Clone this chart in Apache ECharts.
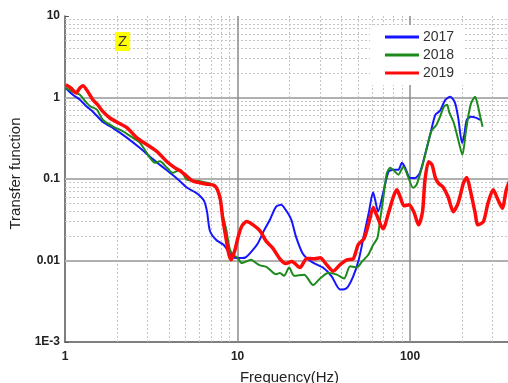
<!DOCTYPE html>
<html>
<head>
<meta charset="utf-8">
<script src="https://cdn.jsdelivr.net/npm/echarts/dist/echarts.min.js"></script>
<style>
  html, body { margin: 0; padding: 0; background: #fff; }
  #chart { width: 508px; height: 383px; }
</style>
</head>
<body>
<div id="chart"></div>
<script>
// Frequency (Hz) and transfer function, Z component, per year
const freq2017 = [1.01,1.11,1.22,1.34,1.45,1.66,1.90,2.29,2.72,3.11,3.55,4.06,4.64,5.1,5.67,6.06,6.4,6.65,6.92,7.5,8.3,9.04,9.8,10.6,11.2,12.2,13.1,14.2,15.4,16.7,17.9,19.0,20.5,21.8,23.9,26.9,31.5,35.1,39.3,43.0,46.8,50.4,54.1,57.8,61.0,62.7,65.2,69.7,75.0,80.0,85.5,89.7,93.5,100,107,114,122,131,140,149,160,171,182,190,200,206,213,226,242,255];
const tf2017 = [1.31,1.08,0.94,0.77,0.67,0.50,0.42,0.32,0.24,0.187,0.149,0.119,0.094,0.078,0.069,0.062,0.054,0.040,0.023,0.018,0.0156,0.0122,0.0107,0.0107,0.0110,0.0133,0.0162,0.0231,0.0316,0.0456,0.0483,0.0419,0.0316,0.0196,0.0121,0.0096,0.0081,0.0064,0.0044,0.0046,0.0064,0.0102,0.0207,0.040,0.069,0.0556,0.040,0.067,0.123,0.130,0.130,0.158,0.138,0.103,0.103,0.120,0.198,0.358,0.614,0.687,0.937,1.02,0.861,0.563,0.277,0.349,0.532,0.58,0.563,0.532];

const freq2018 = [1.01,1.14,1.22,1.31,1.40,1.53,1.66,1.90,2.17,2.48,2.72,3.11,3.32,3.55,3.90,4.22,4.64,5.09,6.06,7.21,7.6,7.91,8.2,8.6,9.04,9.5,9.9,10.6,11.3,12.0,12.9,13.5,14.6,15.4,16.7,17.6,18.6,19.9,21.3,24.3,27.4,30.1,33.5,37.6,41.4,44.9,49.0,52.6,57.1,61.1,64.7,67.0,69.7,73.2,76.6,81.8,85.5,91.3,97.3,104,109,117,125,133,142,149,157,164,168,179,190,201,210,218,226,238,247,255,263];
const tf2018 = [1.31,1.14,1.08,0.90,0.78,0.71,0.53,0.44,0.385,0.32,0.278,0.182,0.158,0.165,0.137,0.119,0.130,0.098,0.094,0.085,0.074,0.0556,0.0364,0.0238,0.0135,0.0115,0.0110,0.0093,0.0098,0.0102,0.0092,0.0087,0.0084,0.0077,0.0068,0.0070,0.0065,0.0082,0.0065,0.0067,0.0050,0.0060,0.0070,0.0067,0.0060,0.0085,0.0082,0.0097,0.0117,0.0156,0.019,0.0316,0.0556,0.116,0.137,0.123,0.113,0.141,0.107,0.078,0.085,0.137,0.241,0.39,0.46,0.58,0.77,0.814,0.67,0.49,0.303,0.198,0.37,0.614,0.86,1.02,0.79,0.58,0.437];

const freq2019 = [1.01,1.08,1.16,1.22,1.27,1.36,1.45,1.55,1.66,1.82,2.03,2.29,2.61,2.99,3.42,3.90,4.34,4.64,4.96,5.53,6.56,7.40,7.91,8.2,8.6,8.9,9.2,9.66,10.1,10.6,11.3,12.3,13.5,14.6,16.0,17.6,19.0,20.6,23.0,25.2,27.9,30.1,32.8,35.8,39.3,43.0,46.8,50.0,54.1,57.9,61.1,63.9,69.7,75.0,80.0,83.8,87.5,92.3,98.6,105,112,118,122,128,134,140,147,155,166,178,190,204,213,223,238,247,266,283,303,323,342,361,380];
const tf2019 = [1.43,1.31,1.14,1.31,1.39,1.17,0.94,0.81,0.67,0.56,0.49,0.425,0.32,0.263,0.216,0.163,0.137,0.126,0.113,0.094,0.087,0.082,0.059,0.033,0.018,0.012,0.0102,0.0135,0.0198,0.0265,0.030,0.0274,0.0231,0.0174,0.0142,0.0105,0.0092,0.0097,0.0082,0.0106,0.0105,0.0108,0.0089,0.0074,0.0089,0.0102,0.0105,0.0156,0.0186,0.030,0.0448,0.0364,0.0245,0.0386,0.0606,0.0737,0.0606,0.0468,0.0483,0.0397,0.0274,0.0397,0.098,0.163,0.149,0.104,0.087,0.080,0.0606,0.0397,0.0510,0.090,0.104,0.0737,0.0386,0.0274,0.030,0.0510,0.0737,0.0556,0.0438,0.0737,0.098];

const seriesNames = ['2017', '2018', '2019'];

// Grid lines of the log-log frame
const xMajorLines = [10, 100];
const yMajorLines = [0.01, 0.1, 1];
const xMinorLines = [2,3,4,5,6,7,8,9,20,30,40,50,60,70,80,90,200,300];
const yMinorLines = [0.002,0.003,0.004,0.005,0.006,0.007,0.008,0.009,
                     0.02,0.03,0.04,0.05,0.06,0.07,0.08,0.09,
                     0.2,0.3,0.4,0.5,0.6,0.7,0.8,0.9,
                     2,3,4,5,6,7,8,9];

const zip = (xs, ys) => xs.map((x, i) => [x, ys[i]]);

const minorStyle = { color: '#c4c4c4', width: 1, type: [2, 2] };
const gridLines = []
  .concat(xMinorLines.map(v => ({ xAxis: v, lineStyle: minorStyle })))
  .concat(yMinorLines.map(v => ({ yAxis: v, lineStyle: minorStyle })))
  .concat(yMajorLines.map(v => ({ yAxis: v, lineStyle: { color: '#b0b0b0', width: 2, type: 'solid' } })))
  .concat(xMajorLines.map(v => ({ xAxis: v, lineStyle: { color: '#8c8c8c', width: 1.5, type: 'solid' } })));

const yLabel = v => {
  const e = Math.round(Math.log10(v));
  if (Math.abs(Math.log10(v) - e) > 1e-6) return '';
  return e < -2 ? '1E' + e : String(Math.pow(10, e).toFixed(Math.max(0, -e)));
};
const xLabel = v => {
  const e = Math.log10(v);
  return Math.abs(e - Math.round(e)) < 1e-6 ? String(Math.round(v)) : '';
};

const chart = echarts.init(document.getElementById('chart'), null, { renderer: 'canvas' });
chart.setOption({
  animation: false,
  backgroundColor: '#fff',
  textStyle: { fontFamily: 'Liberation Sans, Arial, sans-serif' },
  title: {
    text: 'Z',
    left: 115, top: 32,
    padding: [2, 3, 2, 3],
    backgroundColor: '#ffff00',
    textStyle: { fontSize: 15, fontWeight: 'normal', color: '#333', lineHeight: 15 }
  },
  legend: {
    data: seriesNames,
    orient: 'vertical',
    left: 370, top: 25,
    z: 10,
    padding: [4, 10, 4, 15],
    backgroundColor: '#fff',
    itemWidth: 34, itemHeight: 3, itemGap: 2,
    icon: 'rect',
    textStyle: { fontSize: 14, color: '#333', lineHeight: 16, padding: [0, 0, 0, -1] }
  },
  grid: { left: 65, top: 16, width: 449, height: 326, containLabel: false, outerBoundsMode: 'none' },
  xAxis: {
    type: 'log', logBase: 10, min: 1, max: 400,
    name: 'Frequency(Hz)', nameLocation: 'middle', nameGap: 28,
    nameTextStyle: { fontSize: 15, color: '#222' },
    axisLine: { lineStyle: { color: '#555', width: 1.5 } },
    axisTick: { show: false },
    splitLine: { show: false },
    axisLabel: { formatter: xLabel, color: '#222', fontSize: 12, fontWeight: 'bold', margin: 9, showMaxLabel: false }
  },
  yAxis: {
    type: 'log', logBase: 10, min: 0.001, max: 10,
    name: 'Transfer function', nameLocation: 'middle', nameGap: 36,
    nameTextStyle: { fontSize: 15, color: '#222', padding: [0, 0, 0, 11] },
    axisLine: { lineStyle: { color: '#555', width: 1.5 } },
    axisTick: { show: true, inside: true, length: 4, lineStyle: { color: '#555' } },
    splitLine: { show: false },
    axisLabel: { formatter: yLabel, color: '#222', fontSize: 12, fontWeight: 'bold', margin: 5 }
  },
  series: [
    {
      name: 'frame', type: 'line', data: [], silent: true, z: 1,
      markLine: { silent: true, z: 1, symbol: 'none', animation: false, label: { show: false }, data: gridLines }
    },
    {
      name: seriesNames[0], type: 'line', data: zip(freq2017, tf2017), z: 3,
      showSymbol: false, smooth: 0.25, color: '#1515ff',
      lineStyle: { color: '#1515ff', width: 2 }
    },
    {
      name: seriesNames[1], type: 'line', data: zip(freq2018, tf2018), z: 3,
      showSymbol: false, smooth: 0.25, color: '#1a8a1a',
      lineStyle: { color: '#1a8a1a', width: 2 }
    },
    {
      name: seriesNames[2], type: 'line', data: zip(freq2019, tf2019), z: 3,
      showSymbol: false, smooth: 0.25, color: '#ff0a0a',
      lineStyle: { color: '#ff0a0a', width: 3.5 }
    }
  ]
});
</script>
</body>
</html>
